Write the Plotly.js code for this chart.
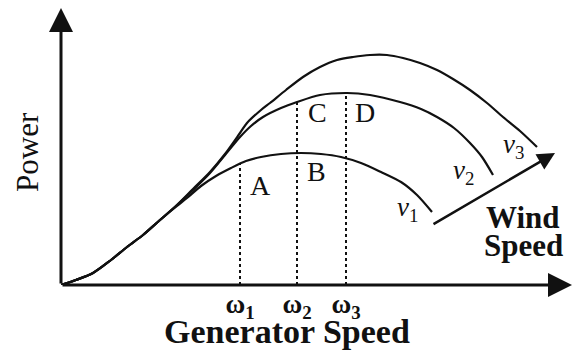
<!DOCTYPE html>
<html>
<head>
<meta charset="utf-8">
<script src="https://cdn.plot.ly/plotly-3.0.1.min.js"></script>
<style>
  html, body { margin: 0; padding: 0; background: #fff; }
  #chart { width: 575px; height: 351px; }
</style>
</head>
<body>
<div id="chart"></div>
<script>
// Power vs generator speed for three wind speeds (schematic units)
const speedV1 = [0, 15, 32, 50, 66, 82, 99, 116, 126, 140, 155, 170, 185, 200, 220, 240, 260, 280, 300, 320, 340, 356, 371];
const powerV1 = [0, 5, 12, 25, 38, 50, 65, 79, 87, 99, 109, 117, 124, 128, 131, 132, 131, 128, 122, 113, 103, 90, 73];

const speedV2 = [0, 15, 32, 50, 66, 82, 99, 116, 132, 149, 164, 179, 190, 202, 220, 236, 259, 286, 309, 339, 360, 376, 393, 409, 421, 432];
const powerV2 = [0, 5, 12, 25, 38, 50, 65, 80, 95, 112, 130, 148, 159, 168, 177, 183, 190, 192, 190, 183, 176, 168, 157, 142, 128, 110];

const speedV3 = [0, 15, 32, 50, 66, 82, 99, 116, 132, 149, 164, 179, 186, 200, 209, 225, 242, 259, 276, 292, 309, 326, 342, 359, 376, 392, 409, 426, 442, 459, 476];
const powerV3 = [0, 5, 12, 25, 38, 50, 65, 80, 96, 113, 131, 152, 162, 175, 182, 195, 208, 218, 225, 228, 230, 230, 227, 222, 215, 206, 195, 182, 168, 154, 138];

// Operating speeds and the power reached there
const omegaSpeeds = [179, 236, 285];
const omegaPower = [122, 183, 192];
const omegaLabels = ['ω<sub>1</sub>', 'ω<sub>2</sub>', 'ω<sub>3</sub>'];

// Operating point labels
const pointNames = ['A', 'B', 'C', 'D'];
const pointX = [199, 255, 256, 304];
const pointY = [100, 114, 173, 173];

// Curve labels
const curveNames = ['<i>v</i><sub>1</sub>', '<i>v</i><sub>2</sub>', '<i>v</i><sub>3</sub>'];
const curveLabelX = [346, 402, 452];
const curveLabelY = [76, 113, 139];

const INK = '#111';
const SERIF = '"Liberation Serif", "Times New Roman", serif';

const curveTrace = (x, y) => ({
  x, y, type: 'scatter', mode: 'lines',
  line: { color: INK, width: 2.2, shape: 'spline', smoothing: 0.8 },
  hoverinfo: 'skip', showlegend: false
});

// vertical dotted guides at the operating speeds
const guideX = [], guideY = [];
omegaSpeeds.forEach((w, i) => {
  guideX.push(w, w, null);
  guideY.push(0, omegaPower[i], null);
});

const traces = [
  curveTrace(speedV1, powerV1),
  curveTrace(speedV2, powerV2),
  curveTrace(speedV3, powerV3),
  {
    x: guideX, y: guideY, type: 'scatter', mode: 'lines',
    line: { color: INK, width: 2, dash: 'dot' },
    hoverinfo: 'skip', showlegend: false
  }
];

const annotations = [];

// axis arrows
annotations.push({
  x: 511, y: 0, ax: 0, ay: 0, xref: 'x', yref: 'y', axref: 'x', ayref: 'y',
  text: '', showarrow: true, arrowhead: 2, arrowsize: 1.6, arrowwidth: 3, arrowcolor: INK
});
annotations.push({
  x: 0, y: 277, ax: 0, ay: 0, xref: 'x', yref: 'y', axref: 'x', ayref: 'y',
  text: '', showarrow: true, arrowhead: 2, arrowsize: 1.6, arrowwidth: 3, arrowcolor: INK
});

// wind speed arrow
annotations.push({
  x: 494, y: 132, ax: 371, ay: 60, xref: 'x', yref: 'y', axref: 'x', ayref: 'y',
  text: '', showarrow: true, arrowhead: 2, arrowsize: 1.4, arrowwidth: 2.5, arrowcolor: INK
});
annotations.push({
  x: 462, y: 68, xref: 'x', yref: 'y', text: '<b>Wind</b>', showarrow: false,
  font: { family: SERIF, size: 31, color: INK }
});
annotations.push({
  x: 462, y: 40, xref: 'x', yref: 'y', text: '<b>Speed</b>', showarrow: false,
  font: { family: SERIF, size: 31, color: INK }
});

pointNames.forEach((t, i) => annotations.push({
  x: pointX[i], y: pointY[i], xref: 'x', yref: 'y', text: t, showarrow: false,
  font: { family: SERIF, size: 28, color: INK }
}));

curveNames.forEach((t, i) => annotations.push({
  x: curveLabelX[i], y: curveLabelY[i], xref: 'x', yref: 'y', text: t, showarrow: false,
  font: { family: SERIF, size: 27, color: INK }
}));

// axis titles, placed in paper space (values in pixels, converted below)
annotations.push({
  x: 287, y: 331, xref: 'paper', yref: 'paper', xanchor: 'center', yanchor: 'middle',
  text: '<b>Generator Speed</b>', showarrow: false,
  font: { family: SERIF, size: 34, color: INK }
});
annotations.push({
  x: 27, y: 152, xref: 'paper', yref: 'paper', xanchor: 'center', yanchor: 'middle',
  text: 'Power', textangle: -90, showarrow: false,
  font: { family: SERIF, size: 31, color: INK }
});

const W = 575, H = 351;
annotations.forEach(a => {
  if (a.xref === 'paper') {
    a.x = (a.x - 61) / (W - 61 - 3);
    a.y = (H - 66 - a.y) / (H - 8 - 66);
  }
});

const layout = {
  width: W, height: H,
  margin: { l: 61, r: 3, t: 8, b: 66 },
  paper_bgcolor: '#fff', plot_bgcolor: '#fff',
  xaxis: {
    range: [0, 511], showgrid: false, zeroline: false, showline: false,
    ticks: '', tickmode: 'array', tickvals: omegaSpeeds,
    ticktext: omegaLabels.map(s => '<b>' + s + '</b>'),
    tickfont: { family: SERIF, size: 27, color: INK },
    fixedrange: true
  },
  yaxis: {
    range: [0, 277], showgrid: false, zeroline: false, showline: false,
    showticklabels: false, ticks: '', fixedrange: true
  },
  annotations,
  showlegend: false
};

Plotly.newPlot('chart', traces, layout, { staticPlot: true, displayModeBar: false });
</script>
</body>
</html>
